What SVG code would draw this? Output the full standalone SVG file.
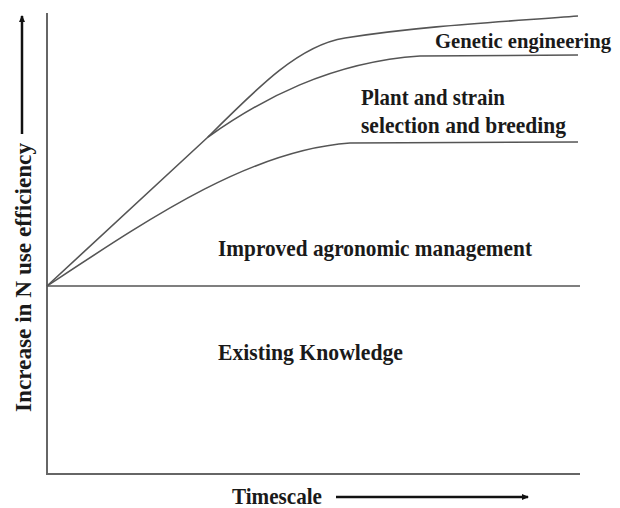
<svg xmlns="http://www.w3.org/2000/svg" width="620" height="508" viewBox="0 0 620 508">
<defs>
<style>
.t{font-family:"Liberation Serif","Times New Roman",serif;font-weight:bold;font-size:23px;fill:#1a1a1a}
.ax{stroke:#666;stroke-width:2;fill:none}
.c{stroke:#555;stroke-width:1.6;fill:none}
.ar{stroke:#111;stroke-width:2.5;fill:none}
</style>
<marker id="ah" markerWidth="8" markerHeight="8" refX="6" refY="4" orient="auto" markerUnits="userSpaceOnUse">
<path d="M0,1 L7,4 L0,7 Z" fill="#111"/>
</marker>
</defs>
<rect width="620" height="508" fill="#fff"/>
<g id="axes">
<line class="ax" x1="47" y1="13" x2="47" y2="474"/>
<line class="ax" x1="46" y1="474" x2="580" y2="474"/>
</g>
<g id="connectors">
<line class="c" x1="47" y1="286" x2="580" y2="286"/>
<path class="c" d="M47,286 C150,218 250,150 350,143 L578,142"/>
<path class="c" d="M47,286 L208,137 C260,100 330,62 420,56 L578,55"/>
<path class="c" d="M208,137 C260,85 300,45 345,38 C420,26 500,22 578,16"/>
<line class="ar" x1="22" y1="134" x2="22" y2="16" marker-end="url(#ah)"/>
<line class="ar" x1="336" y1="497" x2="528" y2="497" marker-end="url(#ah)"/>
</g>
<g id="labels">
<text class="t" x="435" y="48" textLength="176" lengthAdjust="spacingAndGlyphs" style="font-size:20.8px">Genetic engineering</text>
<text class="t" x="361" y="105" textLength="144" lengthAdjust="spacingAndGlyphs">Plant and strain</text>
<text class="t" x="361" y="133" textLength="205" lengthAdjust="spacingAndGlyphs">selection and breeding</text>
<text class="t" x="218" y="256" textLength="314" lengthAdjust="spacingAndGlyphs">Improved agronomic management</text>
<text class="t" x="218" y="360" textLength="185" lengthAdjust="spacingAndGlyphs">Existing Knowledge</text>
<text class="t" x="232" y="504" textLength="90" lengthAdjust="spacingAndGlyphs">Timescale</text>
<text class="t" transform="translate(31,412) rotate(-90)" textLength="269" lengthAdjust="spacingAndGlyphs">Increase in N use efficiency</text>
</g>
</svg>
